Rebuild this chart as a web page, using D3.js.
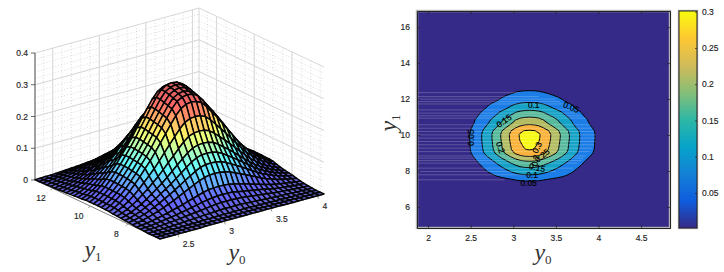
<!DOCTYPE html>
<html>
<head>
<meta charset="utf-8">
<script src="https://cdn.jsdelivr.net/npm/d3@7"></script>
<style>
  html, body { margin: 0; padding: 0; background: #fff; }
  svg { display: block; }
  text { font-family: "Liberation Sans", sans-serif; fill: #222; stroke: #222; stroke-width: 0.15; }
  .math { font-family: "Liberation Serif", serif; font-style: italic; fill: #333; stroke: none; }
</style>
</head>
<body>
<svg id="chart" width="724" height="272"></svg>
<script>
// density, in thousandths; rows run along y1, columns along y0
const density = [
  [0,0,0,0,0,0,0,0,0,1,1,1,1,1,1,1,1,1,1,1,1,1,1,1,0,0,0,0,0,0,0,0,0],
  [0,0,0,0,0,0,1,1,1,1,1,1,2,2,2,2,2,2,2,2,2,1,1,1,1,1,1,1,0,0,0,0,0],
  [0,0,0,1,1,1,1,2,2,2,3,3,3,4,4,4,4,4,4,4,3,3,3,2,2,2,1,1,1,1,1,1,0],
  [0,1,1,2,2,3,4,5,6,7,8,9,10,11,12,12,12,12,12,11,10,9,8,7,6,5,4,4,3,2,2,1,1],
  [1,2,3,4,5,7,8,10,12,14,16,18,20,22,24,25,25,25,24,23,21,19,17,15,13,11,9,8,6,5,4,3,2],
  [2,3,4,6,8,11,13,16,19,22,26,29,33,36,38,40,40,40,39,36,33,30,27,24,21,18,14,12,10,8,6,5,4],
  [2,4,6,9,12,16,20,24,29,33,39,44,49,54,58,59,60,59,58,54,50,45,41,36,31,26,22,18,15,12,10,7,6],
  [4,6,10,14,19,25,31,38,45,53,61,69,77,85,91,94,95,94,91,86,79,72,64,57,49,41,34,29,23,19,15,12,9],
  [5,8,12,18,24,32,40,49,58,68,78,89,99,109,117,121,122,121,117,110,101,92,83,73,63,53,44,37,30,24,19,15,12],
  [6,9,15,21,29,39,48,59,70,81,94,107,120,132,141,146,147,146,141,133,122,111,100,88,76,64,53,44,36,29,23,18,14],
  [7,11,18,25,34,45,57,69,82,96,111,126,141,155,166,171,173,171,166,156,143,131,117,103,89,75,62,52,42,34,27,21,16],
  [8,13,21,30,41,54,67,82,97,114,132,149,167,184,197,203,205,203,197,185,170,155,139,123,106,90,74,62,50,40,32,25,19],
  [9,16,25,36,49,64,81,98,116,136,157,178,199,219,235,243,245,243,236,221,203,185,166,146,126,107,88,74,60,48,39,30,23],
  [11,18,29,41,57,75,94,115,135,158,183,207,232,255,273,282,285,282,274,257,236,216,193,170,147,124,103,86,69,56,45,35,27],
  [11,19,31,44,60,79,99,121,143,167,194,220,246,271,290,299,302,299,291,272,250,228,205,181,156,132,109,91,74,59,48,37,29],
  [12,19,31,45,61,81,101,123,146,170,197,224,250,275,295,304,307,304,295,277,255,232,208,184,158,134,111,92,75,60,49,38,29],
  [12,20,32,45,62,82,103,125,148,173,200,227,254,279,299,309,312,309,300,281,259,236,211,187,161,136,113,94,76,61,49,38,30],
  [12,20,32,46,63,83,104,127,150,175,203,230,257,283,303,313,316,313,304,285,262,239,214,189,163,138,114,95,77,62,50,39,30],
  [12,20,32,46,63,83,104,127,150,176,204,231,258,284,304,314,317,314,305,286,263,240,215,190,163,138,114,95,77,62,50,39,30],
  [12,19,31,44,61,80,100,123,145,169,196,222,248,273,292,302,305,302,293,275,253,231,207,182,157,133,110,92,74,60,48,38,29],
  [10,17,27,39,54,71,89,108,128,149,173,196,219,242,259,267,270,267,260,243,224,204,183,161,139,118,97,81,66,53,43,33,26],
  [9,15,24,35,48,63,79,96,114,133,154,175,195,215,230,238,240,238,231,216,199,181,162,143,124,105,87,72,58,47,38,30,23],
  [8,14,22,32,44,58,72,88,104,122,141,160,179,197,211,218,220,218,212,198,182,166,149,132,113,96,79,66,54,43,35,27,21],
  [7,12,19,28,38,50,63,76,90,105,122,138,154,170,182,188,190,188,183,171,157,144,129,114,98,83,69,57,46,37,30,23,18],
  [6,10,17,24,33,43,54,66,78,91,106,120,134,148,158,163,165,163,159,149,137,125,112,99,85,72,60,50,40,32,26,20,16],
  [5,9,14,20,27,35,44,54,64,75,87,98,110,121,129,134,135,134,130,122,112,102,91,81,70,59,49,41,33,26,21,17,13],
  [4,7,12,17,23,30,38,46,55,64,74,84,94,103,110,114,115,114,111,104,95,87,78,69,59,50,41,35,28,23,18,14,11],
  [3,6,9,13,18,24,30,36,43,50,58,66,73,81,86,89,90,89,87,81,75,68,61,54,46,39,32,27,22,18,14,11,9],
  [3,5,8,11,15,20,25,30,36,41,48,55,61,67,72,74,75,74,72,68,62,57,51,45,39,33,27,23,18,15,12,9,7],
  [2,4,6,9,12,16,20,24,29,33,39,44,49,54,58,59,60,59,58,54,50,45,41,36,31,26,22,18,15,12,10,7,6],
  [2,3,5,7,9,12,15,19,22,26,30,34,38,42,45,47,47,47,45,42,39,36,32,28,24,21,17,14,11,9,7,6,4],
  [1,2,3,4,6,8,10,12,14,17,19,22,24,27,29,30,30,30,29,27,25,23,20,18,15,13,11,9,7,6,5,4,3],
  [1,1,2,2,3,4,5,6,7,8,10,11,12,13,14,15,15,15,14,13,12,11,10,9,8,6,5,4,4,3,2,2,1]
];
const y0Domain = [2.31, 4.07];
const y1Domain = [6.3, 12.93];

const surfaceY0Ticks = [2.5, 3, 3.5, 4];
const surfaceY1Ticks = [8, 10, 12];
const surfaceZTicks = [0, 0.1, 0.2, 0.3, 0.4];

const contourLevels = [0.05, 0.1, 0.15, 0.2, 0.25, 0.3];
const bandColors = ["#1c7de6", "#16a2c6", "#58ba9c", "#b3bc62", "#fbb33c", "#f8fa14"];
const mapY0Ticks = [2, 2.5, 3, 3.5, 4, 4.5];
const mapY1Ticks = [6, 8, 10, 12, 14, 16];
const barTicks = [0.05, 0.1, 0.15, 0.2, 0.25, 0.3];

const contourLabels = ["0.05", "0.1", "0.05", "0.15", "0.2", "0.3", "0.25", "0.2", "0.15", "0.1", "0.05"];
const labelY0 = [2.50, 3.24, 3.68, 2.89, 2.85, 3.28, 3.34, 3.26, 3.28, 3.22, 3.18];
const labelY1 = [9.86, 11.69, 11.55, 10.79, 9.31, 9.31, 8.86, 8.58, 8.19, 7.79, 7.33];
const labelAngle = [-90, 0, 22, -35, 70, -65, -40, -80, 12, 0, 0];

// the pale horizontal scan streaks left of and through the contours
const streakY1 = [12.36,12.14,12.0,11.86,11.73,11.4,11.22,11.07,10.94,10.57,10.38,10.2,10.01,9.83,9.64,9.46,9.27,9.08,8.84,8.72,8.58,8.44,8.16,7.97,7.79,7.51];
const streakEnd = [3.07,3.3,3.5,3.55,3.6,3.7,3.75,3.8,3.85,3.9,3.93,3.95,3.97,3.97,3.97,3.95,3.93,3.9,3.85,3.82,3.8,3.75,3.7,3.5,3.2,2.9];

const parula = ["#352a87", "#0f5cdd", "#1481d6", "#06a4ca", "#2eb7a4", "#87bf77", "#d1bb59", "#fec832", "#f9fb0e"];
const jetStops = [0, 0.12, 0.375, 0.625, 0.875, 1];
const jetColors = ["#6666d0", "#6666ff", "#66ffff", "#ffff66", "#ff6666", "#d06060"];

const rows = density.length;
const cols = density[0].length;
const y0Step = (y0Domain[1] - y0Domain[0]) / (cols - 1);
const y1Step = (y1Domain[1] - y1Domain[0]) / (rows - 1);

const svg = d3.select("#chart");

// left panel, an orthographic box: front corner (160,239), y0 runs to (324,194),
// y1 runs to (35,180), z rises 127px
const y0X = d3.scaleLinear().domain(y0Domain).range([0, 164]);
const y0Y = d3.scaleLinear().domain(y0Domain).range([0, -45]);
const y1X = d3.scaleLinear().domain(y1Domain).range([0, -125]);
const y1Y = d3.scaleLinear().domain(y1Domain).range([0, -59]);
const zY = d3.scaleLinear().domain([0, 0.4]).range([0, -127]);

const project = (a, b, z) => [160 + y0X(a) + y1X(b), 239 + y0Y(a) + y1Y(b) + zY(z)];

const jet = d3.scaleLinear()
    .domain(jetStops.map(t => t * 0.317))
    .range(jetColors);

const addLine = (g, p, q, color, width, dash) => {
    g.append("line")
        .attr("x1", p[0]).attr("y1", p[1])
        .attr("x2", q[0]).attr("y2", q[1])
        .attr("stroke", color)
        .attr("stroke-width", width)
        .attr("stroke-dasharray", dash);
};

const addWalls = g => {
    const [a0, a1] = y0Domain;
    const [b0, b1] = y1Domain;
    const minorColor = "#c4c4c4";
    const majorColor = "#d8d8d8";

    d3.range(2.4, 4.05, 0.1).forEach(v => {
        addLine(g, project(v, b1, 0), project(v, b1, 0.4), minorColor, 0.6, "1,2");
    });
    d3.range(6.5, 12.9, 0.5).forEach(v => {
        addLine(g, project(a1, v, 0), project(a1, v, 0.4), minorColor, 0.6, "1,2");
    });
    d3.range(0.02, 0.4, 0.02).forEach(v => {
        addLine(g, project(a0, b1, v), project(a1, b1, v), minorColor, 0.6, "1,2");
        addLine(g, project(a1, b1, v), project(a1, b0, v), minorColor, 0.6, "1,2");
    });

    surfaceY0Ticks.forEach(v => addLine(g, project(v, b1, 0), project(v, b1, 0.4), majorColor, 1));
    surfaceY1Ticks.forEach(v => addLine(g, project(a1, v, 0), project(a1, v, 0.4), majorColor, 1));
    surfaceZTicks.forEach(v => {
        addLine(g, project(a0, b1, v), project(a1, b1, v), majorColor, 1);
        addLine(g, project(a1, b1, v), project(a1, b0, v), majorColor, 1);
    });
    addLine(g, project(a1, b1, 0), project(a1, b1, 0.4), majorColor, 1);
};

const addAxes3d = g => {
    const [a0, a1] = y0Domain;
    const [b0, b1] = y1Domain;
    const axisColor = "#7a7a7a";

    addLine(g, project(a0, b1, 0), project(a0, b1, 0.4), axisColor, 1.4);
    addLine(g, project(a0, b0, 0), project(a0, b1, 0), axisColor, 1);
    addLine(g, project(a0, b0, 0), project(a1, b0, 0), axisColor, 1);

    surfaceZTicks.forEach(v => {
        const p = project(a0, b1, v);
        addLine(g, p, [p[0] - 4, p[1]], "#444", 0.8);
        g.append("text")
            .attr("x", p[0] - 7).attr("y", p[1] + 3)
            .attr("text-anchor", "end")
            .attr("font-size", 8.5)
            .text(v);
    });
    surfaceY0Ticks.forEach(v => {
        const p = project(v, b0, 0);
        addLine(g, p, [p[0] + 1, p[1] + 3], "#666", 0.7);
        g.append("text")
            .attr("x", p[0] + 5).attr("y", p[1] + 13)
            .attr("font-size", 8.5)
            .text(v);
    });
    surfaceY1Ticks.forEach(v => {
        const p = project(a0, v, 0);
        addLine(g, p, [p[0] - 2, p[1] + 2], "#666", 0.7);
        g.append("text")
            .attr("x", p[0] - 11.5).attr("y", p[1] + 13)
            .attr("text-anchor", "middle")
            .attr("font-size", 8.5)
            .text(v);
    });
};

const addSurface = g => {
    const quad = d3.line().curve(d3.curveLinearClosed);
    // back corner first so nearer cells cover farther ones
    for (let j = rows - 2; j >= 0; j--) {
        for (let i = cols - 2; i >= 0; i--) {
            const a = y0Domain[0] + i * y0Step;
            const b = y1Domain[0] + j * y1Step;
            const zs = [density[j][i], density[j][i + 1], density[j + 1][i + 1], density[j + 1][i]].map(v => v / 1000);
            g.append("path")
                .attr("d", quad([
                    project(a, b, zs[0]),
                    project(a + y0Step, b, zs[1]),
                    project(a + y0Step, b + y1Step, zs[2]),
                    project(a, b + y1Step, zs[3])
                ]))
                .attr("fill", jet(d3.mean(zs)))
                .attr("stroke", "#050505")
                .attr("stroke-width", 1.5)
                .attr("stroke-linejoin", "round");
        }
    }
};

const addMathLabel = (g, letter, sub, x, y, angle) => {
    const t = g.append("text")
        .attr("class", "math")
        .attr("transform", `translate(${x},${y}) rotate(${angle || 0})`)
        .attr("text-anchor", "middle")
        .attr("font-size", 24);
    t.append("tspan").text(letter);
    t.append("tspan")
        .attr("dy", 4)
        .attr("font-size", 13)
        .attr("font-style", "normal")
        .text(sub);
};

// right panel
const mapMargin = {left: 417, right: 670, top: 11, bottom: 228};
const mapX = d3.scaleLinear().domain([1.87, 4.84]).range([mapMargin.left, mapMargin.right]);
const mapY = d3.scaleLinear().domain([4.83, 16.9]).range([mapMargin.bottom, mapMargin.top]);
const barY = d3.scaleLinear().domain([0.0016, 0.301]).range([228, 11]);

const styleAxis = (sel, size) => {
    sel.selectAll("text")
        .attr("font-size", size)
        .style("fill", "#222");
    sel.selectAll("line").attr("stroke", "#222").attr("stroke-width", 0.7);
    sel.select(".domain").attr("stroke", "#222").attr("stroke-width", 1);
};

const addMap = g => {
    g.append("rect")
        .attr("x", mapMargin.left)
        .attr("y", mapMargin.top)
        .attr("width", mapMargin.right - mapMargin.left)
        .attr("height", mapMargin.bottom - mapMargin.top)
        .attr("fill", parula[0])
        .attr("stroke", "#b4b4b4")
        .attr("stroke-width", 2.4);

    const toScreen = d3.geoTransform({
        point(px, py) {
            this.stream.point(
                mapX(y0Domain[0] + (px - 0.5) * y0Step),
                mapY(y1Domain[0] + (py - 0.5) * y1Step)
            );
        }
    });
    const bands = d3.contours()
        .size([cols, rows])
        .thresholds(contourLevels.map(v => v * 1000))(density.flat());

    g.append("g").selectAll("path")
        .data(bands)
        .join("path")
        .attr("d", d3.geoPath(toScreen))
        .attr("fill", (d, i) => bandColors[i])
        .attr("stroke", "#000")
        .attr("stroke-width", 1);

    g.append("g").selectAll("line")
        .data(streakY1)
        .join("line")
        .attr("x1", mapMargin.left)
        .attr("x2", (d, i) => mapX(streakEnd[i]))
        .attr("y1", d => mapY(d))
        .attr("y2", d => mapY(d))
        .attr("stroke", "#fff")
        .attr("stroke-opacity", 0.3)
        .attr("stroke-width", 0.7);

    g.append("g").selectAll("text")
        .data(contourLabels)
        .join("text")
        .attr("transform", (d, i) => `translate(${mapX(labelY0[i])},${mapY(labelY1[i])}) rotate(${labelAngle[i]})`)
        .attr("text-anchor", "middle")
        .attr("dy", "0.35em")
        .attr("font-size", 8.4)
        .style("fill", "#000")
        .style("stroke", "#000")
        .style("stroke-width", 0.2)
        .text(d => d);

    g.append("g")
        .attr("transform", `translate(0,${mapMargin.bottom})`)
        .call(d3.axisBottom(mapX).tickValues(mapY0Ticks).tickFormat(d => d).tickSizeInner(-3).tickSizeOuter(0).tickPadding(7))
        .call(styleAxis, 8.5);
    g.append("g")
        .attr("transform", `translate(${mapMargin.left},0)`)
        .call(d3.axisLeft(mapY).tickValues(mapY1Ticks).tickFormat(d => d).tickSizeInner(-3).tickSizeOuter(0).tickPadding(7))
        .call(styleAxis, 8.5);
    g.append("g")
        .attr("transform", `translate(0,${mapMargin.top})`)
        .call(d3.axisTop(mapX).tickValues(mapY0Ticks).tickFormat("").tickSizeInner(-3).tickSizeOuter(0))
        .call(styleAxis, 8.5);
    g.append("g")
        .attr("transform", `translate(${mapMargin.right},0)`)
        .call(d3.axisRight(mapY).tickValues(mapY1Ticks).tickFormat("").tickSizeInner(-3).tickSizeOuter(0))
        .call(styleAxis, 8.5);
};

const addColorbar = g => {
    const gradient = g.append("defs").append("linearGradient")
        .attr("id", "parula")
        .attr("x1", 0).attr("x2", 0).attr("y1", 1).attr("y2", 0);
    gradient.selectAll("stop")
        .data(parula)
        .join("stop")
        .attr("offset", (d, i) => i / (parula.length - 1))
        .attr("stop-color", d => d);

    g.append("rect")
        .attr("x", 679).attr("y", 11)
        .attr("width", 18).attr("height", 217)
        .attr("fill", "none")
        .attr("stroke", "#b4b4b4")
        .attr("stroke-width", 2.4);
    g.append("rect")
        .attr("x", 679).attr("y", 11)
        .attr("width", 18).attr("height", 217)
        .attr("fill", "url(#parula)")
        .attr("stroke", "#222")
        .attr("stroke-width", 1);

    g.append("g")
        .attr("transform", "translate(697,0)")
        .call(d3.axisRight(barY).tickValues(barTicks).tickFormat(d => d).tickSizeInner(-2).tickSizeOuter(0).tickPadding(5))
        .call(styleAxis, 8.5)
        .select(".domain").remove();
};

const left = svg.append("g");
addWalls(left);
addAxes3d(left);
addSurface(left);
addMathLabel(left, "y", "1", 93, 257);
addMathLabel(left, "y", "0", 237, 260);

const right = svg.append("g");
addMap(right);
addColorbar(right);
addMathLabel(right, "y", "0", 543, 260);
addMathLabel(right, "y", "1", 396, 123, -90);
</script>
</body>
</html>
